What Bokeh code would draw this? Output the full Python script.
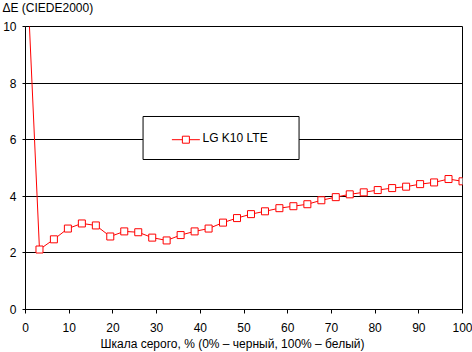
from bokeh.plotting import figure
from bokeh.models import Range1d, FixedTicker, Title
from bokeh.core.properties import value
from bokeh.embed import file_html
from bokeh.resources import INLINE

# ---- data ----
gray_pct = [0, 3.2, 6.5, 9.7, 12.9, 16.1, 19.4, 22.6, 25.8, 29.0, 32.3, 35.5,
            38.7, 41.9, 45.2, 48.4, 51.6, 54.8, 58.1, 61.3, 64.5, 67.7, 71.0,
            74.2, 77.4, 80.6, 83.9, 87.1, 90.3, 93.5, 96.8, 100]
delta_e = [13.1, 2.12, 2.48, 2.86, 3.04, 2.97, 2.58, 2.76, 2.73, 2.54, 2.44, 2.63,
           2.76, 2.86, 3.07, 3.23, 3.37, 3.47, 3.58, 3.65, 3.72, 3.86, 3.97,
           4.07, 4.14, 4.22, 4.29, 4.34, 4.43, 4.49, 4.61, 4.53]
x_ticks = [0, 10, 20, 30, 40, 50, 60, 70, 80, 90, 100]
y_ticks = [0, 2, 4, 6, 8, 10]
series_name = "LG K10 LTE"
title_text = "\u0394E (CIEDE2000)"
x_label = "Шкала серого, % (0% – черный, 100% – белый)"

FONT = "Liberation Sans"
RED = "#FF0000"

p = figure(width=472, height=352, output_backend="svg", toolbar_location=None,
           x_range=Range1d(0, 100), y_range=Range1d(0, 10),
           min_border_left=23, min_border_right=10, min_border_top=26,
           min_border_bottom=43)
p.background_fill_color = "white"
p.border_fill_color = "white"
p.outline_line_color = "black"
p.outline_line_width = 1

# spacer between frame and title, then the title itself (top-left)
spacer = Title(text=" ", text_font_size="1px", standoff=7)
p.add_layout(spacer, "above")
tt = Title(text=title_text, align="left", offset=-23, text_font=FONT,
           text_font_size="12px", text_font_style="normal", text_color="black",
           vertical_align="top", standoff=0)
p.add_layout(tt, "above")

# grid
p.xgrid.grid_line_color = None
p.ygrid.ticker = FixedTicker(ticks=y_ticks)
p.ygrid.grid_line_color = "black"
p.ygrid.grid_line_alpha = 1.0
p.ygrid.grid_line_width = 1

# axes
for ax in (p.xaxis, p.yaxis):
    ax.axis_line_color = "black"
    ax.major_tick_line_color = "black"
    ax.minor_tick_line_color = None
    ax.major_tick_in = 0
    ax.major_label_text_font = FONT
    ax.major_label_text_font_size = "12px"
    ax.major_label_text_color = "black"
p.xaxis.ticker = FixedTicker(ticks=x_ticks)
p.yaxis.ticker = FixedTicker(ticks=y_ticks)
p.xaxis.major_tick_out = 4
p.yaxis.major_tick_out = 3
p.xaxis.major_label_standoff = 9
p.yaxis.major_label_standoff = 6

# x label as a title below the axis
xt = Title(text=x_label, align="left", offset=75, text_font=FONT,
           text_font_size="12px", text_font_style="normal", text_color="black",
           vertical_align="bottom", standoff=0)
p.add_layout(xt, "below")

# data series
p.line(gray_pct, delta_e, line_color=RED, line_width=1)
p.scatter(gray_pct, delta_e, marker="square", size=7, fill_color="white",
          line_color=RED, line_width=1)

# legend box (drawn manually)
p.quad(left=26.9, right=62.6, bottom=5.30, top=6.82, fill_color="white",
       line_color="black", line_width=1)
p.line([33.5, 39.9], [6.0, 6.0], line_color=RED, line_width=1)
p.scatter([36.7], [6.0], marker="square", size=7, fill_color="white",
          line_color=RED, line_width=1)
p.text([40.5], [6.07], text=[series_name], text_font=value(FONT),
       text_font_size="12px", text_align="left", text_baseline="middle",
       text_color="black")

open("out.html", "w").write(file_html(p, INLINE))
